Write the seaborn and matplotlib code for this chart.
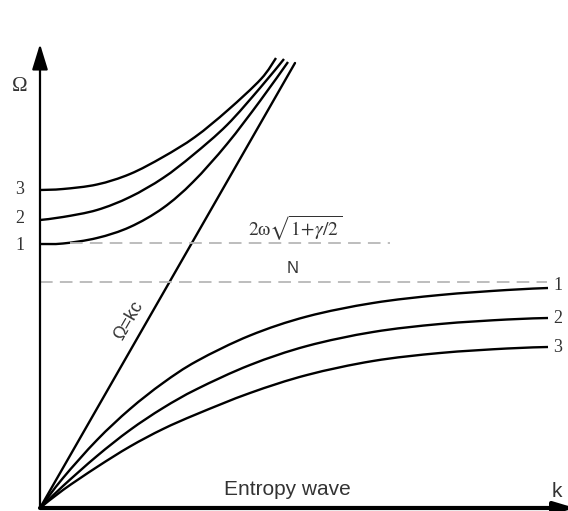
import numpy as np
import pandas as pd
import matplotlib
matplotlib.use("Agg")
import matplotlib.pyplot as plt
from matplotlib.path import Path
from matplotlib.patches import PathPatch
import seaborn as sns

sns.set_theme(style="white")
plt.rcParams["mathtext.fontset"] = "stix"

# ---- data (schematic dispersion curves, arbitrary units) ----
k_sound = [0.0, 5.1]
omega_sound = [0.0, 8.9]

k_upper3 = [0, 0.46, 1.14, 1.8, 2.46, 3.1, 3.76, 4.42, 4.72]
omega_upper3 = [6.36, 6.38, 6.47, 6.68, 7.02, 7.42, 7.96, 8.58, 9.0]
k_upper2 = [0, 0.46, 1.14, 1.8, 2.46, 3.06, 3.74, 4.4, 4.88]
omega_upper2 = [5.76, 5.82, 5.96, 6.22, 6.6, 7.06, 7.66, 8.4, 8.98]
k_upper1 = [0, 0.46, 1.14, 1.8, 2.46, 3.06, 3.74, 4.4, 4.96]
omega_upper1 = [5.28, 5.29, 5.4, 5.62, 6.0, 6.52, 7.28, 8.14, 8.92]

k_lower = [0, 0.46, 1.14, 1.8, 2.46, 3.14, 4.2, 5.34, 6.66, 8.0, 9.34, 10.16]
omega_lower1 = [0, 0.6, 1.36, 1.98, 2.5, 2.94, 3.45, 3.83, 4.1, 4.26, 4.36, 4.4]
omega_lower2 = [0, 0.44, 1.04, 1.56, 2.0, 2.38, 2.86, 3.24, 3.52, 3.68, 3.77, 3.8]
omega_lower3 = [0, 0.36, 0.82, 1.23, 1.58, 1.88, 2.3, 2.66, 2.94, 3.1, 3.19, 3.22]

level_upper = 5.3          # 2ω√(1+γ/2)
level_upper_span = [0.6, 7.0]
level_N = 4.52             # N
level_N_span = [0.0, 10.14]

upper_labels = ["1", "2", "3"]
upper_label_omega = [5.26, 5.8, 6.38]
lower_labels = ["1", "2", "3"]
lower_label_omega = [4.46, 3.8, 3.22]

# ---- figure ----
fig = plt.figure(figsize=(5.68, 5.11), dpi=100)
ax = fig.add_axes([0, 0, 1, 1])
ax.set_xlim(-0.8, 10.56)
ax.set_ylim(-0.06, 10.16)
ax.axis("off")

lw = 1.7


def smooth_path(xs, ys):
    """Catmull-Rom curve through the given points, as cubic Bezier segments."""
    p = np.column_stack([xs, ys]).astype(float)
    ext = np.vstack([p[0], p, p[-1]])
    verts = [p[0]]
    codes = [Path.MOVETO]
    for i in range(1, len(ext) - 2):
        p0, p1, p2, p3 = ext[i - 1], ext[i], ext[i + 1], ext[i + 2]
        c1 = p1 + (p2 - p0) / 6.0
        c2 = p2 - (p3 - p1) / 6.0
        verts += [c1, c2, p2]
        codes += [Path.CURVE4] * 3
    return Path(verts, codes)


# straight sound line via seaborn
sns.lineplot(data=pd.DataFrame({"k": k_sound, "omega": omega_sound}),
             x="k", y="omega", ax=ax, color="black", lw=lw, sort=False, estimator=None)

for kk, oo in [(k_upper1, omega_upper1), (k_upper2, omega_upper2), (k_upper3, omega_upper3),
               (k_lower, omega_lower1), (k_lower, omega_lower2), (k_lower, omega_lower3)]:
    ax.add_patch(PathPatch(smooth_path(kk, oo), fill=False, edgecolor="black", lw=lw,
                           capstyle="butt"))

dash_color = "#b8b8b8"
ax.plot(level_upper_span, [level_upper] * 2, color=dash_color, lw=1.3, dashes=(7, 4))
ax.plot(level_N_span, [level_N] * 2, color=dash_color, lw=1.3, dashes=(7, 4))

# axes arrows
ax.annotate("", xy=(0, 9.28), xytext=(0, 0), annotation_clip=False,
            arrowprops=dict(arrowstyle="-|>,head_length=1.3,head_width=0.4",
                            lw=1.6, color="black", shrinkA=0, shrinkB=0))
ax.annotate("", xy=(10.7, 0), xytext=(0, 0), annotation_clip=False,
            arrowprops=dict(arrowstyle="-|>,head_length=1.0,head_width=0.3",
                            lw=3.0, color="black", shrinkA=0, shrinkB=0))

txt = "#333333"
serif = "Liberation Serif"
ax.text(-0.4, 8.44, "Ω", family=serif, fontsize=15, color=txt, ha="center", va="center")
for lab, om in zip(upper_labels, upper_label_omega):
    ax.text(-0.4, om, lab, family=serif, fontsize=13, color=txt, ha="center", va="center")
for lab, om in zip(lower_labels, lower_label_omega):
    ax.text(10.35, om, lab, family=serif, fontsize=13, color=txt, ha="center", va="center")

ax.text(5.1, 5.6, r"$2\mathrm{\omega}\sqrt{1\!+\!\gamma/2}$", fontsize=14, color=txt,
        ha="center", va="center")
ax.text(5.06, 4.8, "N", family="Liberation Sans", fontsize=12, color=txt,
        ha="center", va="center")
ax.text(1.78, 3.74, "Ω=kc", family="Liberation Sans", fontsize=13, color=txt,
        ha="center", va="center", rotation=60)
ax.text(4.94, 0.37, "Entropy wave", family="Liberation Sans", fontsize=15, color=txt,
        ha="center", va="center")
ax.text(10.34, 0.33, "k", family="Liberation Sans", fontsize=15, color=txt,
        ha="center", va="center")

fig.savefig("out.png", dpi=100)
